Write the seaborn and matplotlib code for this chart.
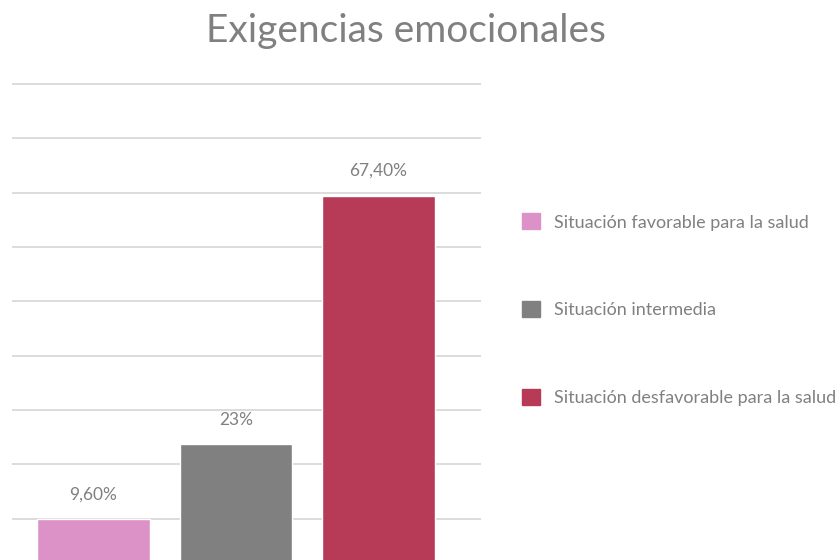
import numpy as np
import matplotlib
matplotlib.use('Agg')
import matplotlib.pyplot as plt
import seaborn as sns
import pandas as pd

categories = [
    'Situación favorable para la salud',
    'Situación intermedia',
    'Situación desfavorable para la salud',
]
values = [9.6, 23.0, 67.4]
value_labels = ['9,60%', '23%', '67,40%']
colors = ['#DD92C7', '#808080', '#B73B56']

TEXT = '#808080'

sns.set_style('white')
plt.rcParams['font.family'] = ['Lato', 'DejaVu Sans']

df = pd.DataFrame({'situacion': categories, 'pct': values})

fig = plt.figure(figsize=(8.38, 5.6), dpi=100)
ax = fig.add_axes([12 / 838, -13 / 560, 469 / 838, 504 / 560])

sns.barplot(
    data=df,
    x='situacion',
    y='pct',
    hue='situacion',
    palette=dict(zip(categories, colors)),
    saturation=1,
    width=0.79,
    legend=False,
    ax=ax,
)

for c, lab in zip(ax.containers, value_labels):
    ax.bar_label(c, labels=[lab], padding=12, fontsize=12.5, color=TEXT)

ax.set_xlim(-0.572, 2.719)
ax.set_ylim(0, 90)
ax.set_yticks(np.arange(1, 10) * 9.7)
ax.yaxis.grid(True, color='#d9d9d9', lw=1.3)
ax.set_axisbelow(True)
ax.set_xticks([])
ax.tick_params(axis='y', length=0, labelleft=False)
ax.set_xlabel('')
ax.set_ylabel('')
sns.despine(ax=ax, left=True, bottom=True)

handles = [plt.Rectangle((0, 0), 1, 1, color=col) for col in colors]
fig.legend(
    handles, categories,
    loc='upper left',
    bbox_to_anchor=(506 / 838, 1 - 197 / 560),
    frameon=False,
    fontsize=13,
    labelcolor=TEXT,
    handlelength=1.0,
    handleheight=1.0,
    handletextpad=0.75,
    labelspacing=3.9,
)

fig.text(0.485, 1 - 31 / 560, 'Exigencias emocionales',
         ha='center', va='center', fontsize=28, color=TEXT)

fig.savefig('out.png', dpi=100)
